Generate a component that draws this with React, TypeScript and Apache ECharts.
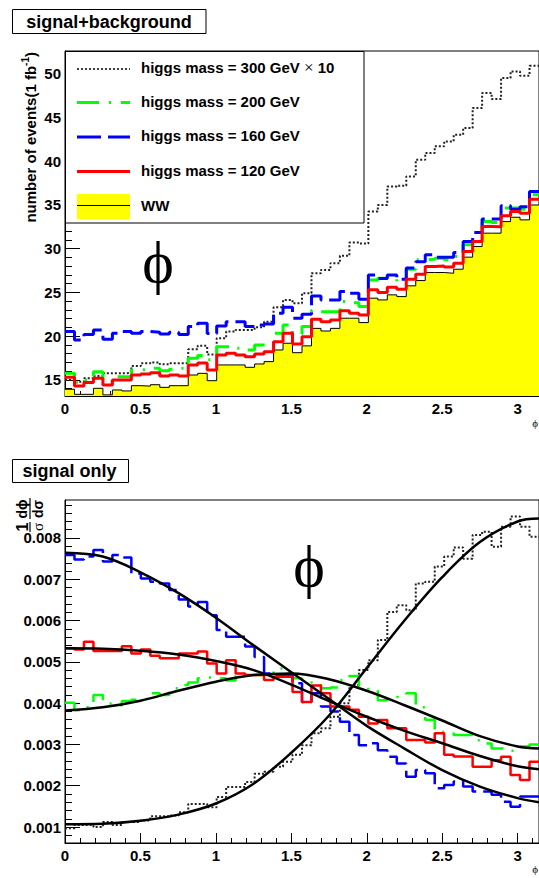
import React, { useEffect, useRef } from "react";
import * as echarts from "echarts";

// ---------- binning ----------
const N_BINS = 50;
const PHI_MAX = Math.PI;

// ---------- axis ticks / labels ----------
const xMajorTicks = [0, 0.5, 1, 1.5, 2, 2.5, 3];
const xMinorTicks = [0.1, 0.2, 0.3, 0.4, 0.6, 0.7, 0.8, 0.9, 1.1, 1.2, 1.3, 1.4, 1.6, 1.7, 1.8, 1.9, 2.1, 2.2, 2.3, 2.4, 2.6, 2.7, 2.8, 2.9, 3.1];
const topYMajorTicks = [15, 20, 25, 30, 35, 40, 45, 50];
const topYMinorTicks = [14, 16, 17, 18, 19, 21, 22, 23, 24, 26, 27, 28, 29, 31, 32, 33, 34, 36, 37, 38, 39, 41, 42, 43, 44, 46, 47, 48, 49, 51, 52];
const botYMajorTicks = [0.001, 0.002, 0.003, 0.004, 0.005, 0.006, 0.007, 0.008];
const botYMinorTicks = [0.0008, 0.0012, 0.0014, 0.0016, 0.0018, 0.0022, 0.0024, 0.0026, 0.0028, 0.0032, 0.0034, 0.0036, 0.0038, 0.0042, 0.0044, 0.0046, 0.0048, 0.0052, 0.0054, 0.0056, 0.0058, 0.0062, 0.0064, 0.0066, 0.0068, 0.0072, 0.0074, 0.0076, 0.0078, 0.0082, 0.0084, 0.0086, 0.0088];

// ---------- top panel: signal + background (events / 1 fb^-1) ----------
const topWW = [13.94, 13.36, 13.36, 14.05, 13.3, 13.86, 13.75, 14.35, 14.3, 14.46, 14.16, 14.35, 14.35, 15.57, 15.76, 14.92, 16.72, 16.72, 16.72, 16.45, 16.83, 17.1, 18.43, 19.2, 18.12, 18.9, 20.9, 20.6, 20.9, 22.06, 22.06, 21.56, 24.35, 24.15, 24.73, 24.53, 25.76, 26.36, 27.28, 27.28, 27.2, 27.66, 29.04, 30.25, 31.78, 31.78, 33.1, 33.6, 33.3, 35.0];
const topH120 = [15.3, 14.31, 14.7, 15.2, 14.43, 15.0, 15.0, 15.57, 15.69, 15.84, 15.46, 15.57, 15.46, 16.72, 16.95, 16.14, 17.86, 18.05, 17.86, 17.67, 17.97, 18.24, 19.38, 20.34, 19.12, 19.95, 21.94, 21.67, 21.86, 22.9, 22.63, 22.44, 25.3, 24.99, 25.6, 25.38, 26.52, 27.09, 27.96, 28.04, 27.9, 28.35, 29.68, 30.82, 32.54, 32.5, 33.76, 34.26, 34.07, 35.67];
const topH160 = [20.53, 19.58, 20.2, 20.72, 19.66, 20.34, 20.53, 20.34, 20.53, 20.45, 20.26, 20.45, 20.2, 21.1, 21.48, 20.3, 21.18, 21.67, 21.67, 21.1, 21.29, 21.4, 22.63, 23.3, 22.06, 22.5, 24.6, 24.15, 24.15, 25.1, 24.9, 24.23, 27.0, 26.6, 27.0, 26.5, 27.8, 28.5, 29.3, 29.04, 29.04, 29.56, 30.82, 31.85, 33.4, 33.4, 34.9, 34.5, 34.8, 36.55];
const topH200 = [15.76, 14.7, 15.0, 15.95, 14.8, 15.38, 15.38, 16.14, 16.22, 16.33, 16.07, 16.22, 16.33, 17.48, 17.8, 17.3, 18.81, 18.81, 18.62, 18.43, 19.0, 19.0, 20.34, 21.29, 20.26, 21.1, 22.93, 22.8, 22.8, 23.96, 23.84, 23.4, 26.44, 26.63, 26.63, 26.25, 27.66, 28.73, 28.8, 28.9, 28.73, 29.1, 30.45, 31.2, 33.1, 33.0, 34.65, 34.65, 34.5, 36.17];
const topH300x10 = [15.0, 14.8, 15.2, 15.46, 15.76, 15.76, 15.8, 16.6, 16.9, 17.0, 16.8, 16.9, 16.9, 18.5, 18.9, 17.9, 19.77, 20.53, 20.72, 20.72, 21.03, 21.67, 23.3, 24.15, 23.77, 24.92, 27.2, 27.58, 28.35, 29.19, 30.7, 30.6, 34.26, 35.0, 37.1, 37.2, 38.26, 40.17, 40.94, 41.7, 42.27, 43.03, 43.8, 46.09, 47.8, 47.1, 49.5, 50.27, 49.78, 50.9];

// ---------- bottom panel: signal only (normalised) ----------
const botH160 = [0.00759, 0.00748, 0.00755, 0.00771, 0.00743, 0.00759, 0.00753, 0.00714, 0.00702, 0.00694, 0.0069, 0.00674, 0.00651, 0.00634, 0.00645, 0.00613, 0.00577, 0.00561, 0.00561, 0.00537, 0.00512, 0.00472, 0.00468, 0.00468, 0.00448, 0.00403, 0.00424, 0.00392, 0.0038, 0.00355, 0.00323, 0.00298, 0.00303, 0.00286, 0.0027, 0.00254, 0.00222, 0.00238, 0.0023, 0.00194, 0.00202, 0.0021, 0.00198, 0.00186, 0.00186, 0.00178, 0.00161, 0.00149, 0.00174, 0.00174];
const botH120 = [0.00533, 0.0053, 0.00549, 0.00526, 0.00526, 0.00526, 0.00538, 0.0052, 0.0053, 0.00515, 0.00509, 0.00509, 0.0052, 0.0052, 0.00525, 0.00496, 0.00472, 0.00504, 0.00472, 0.00468, 0.00468, 0.00456, 0.00464, 0.00464, 0.00427, 0.00403, 0.00443, 0.00424, 0.00392, 0.00392, 0.00384, 0.00367, 0.00351, 0.00359, 0.00339, 0.00339, 0.00311, 0.00311, 0.00305, 0.00327, 0.00275, 0.00271, 0.00271, 0.00246, 0.00246, 0.00262, 0.0027, 0.00226, 0.00214, 0.00258];
const botH200 = [0.00401, 0.00383, 0.0039, 0.0042, 0.00399, 0.00395, 0.00405, 0.00408, 0.0041, 0.00424, 0.0042, 0.00436, 0.00444, 0.0045, 0.0046, 0.00462, 0.0046, 0.00455, 0.00465, 0.0047, 0.00468, 0.0047, 0.00484, 0.00472, 0.0046, 0.00456, 0.0045, 0.00436, 0.00438, 0.00456, 0.00466, 0.0044, 0.0043, 0.00407, 0.0041, 0.00415, 0.00424, 0.0039, 0.0036, 0.0033, 0.0033, 0.00323, 0.00323, 0.0031, 0.00302, 0.0029, 0.0029, 0.00285, 0.00295, 0.003];
const botH300 = [0.00097, 0.00105, 0.00105, 0.001, 0.00112, 0.00105, 0.00112, 0.00112, 0.00116, 0.00126, 0.00126, 0.00128, 0.00136, 0.00156, 0.00156, 0.00148, 0.00173, 0.00197, 0.00197, 0.00209, 0.00229, 0.00234, 0.00246, 0.00258, 0.00275, 0.00298, 0.00327, 0.00339, 0.00367, 0.004, 0.00444, 0.0048, 0.00504, 0.00553, 0.00621, 0.00637, 0.00625, 0.0069, 0.00694, 0.00731, 0.00755, 0.00777, 0.0075, 0.00807, 0.00815, 0.00779, 0.00827, 0.00852, 0.00827, 0.00803];

// fitted curves, read at these phi values
const fitPhi = [0, 0.25, 0.5, 0.75, 1.0, 1.25, 1.5, 1.75, 2.0, 2.25, 2.5, 2.75, 3.0, 3.1416];
const fit160 = [0.00764, 0.00755, 0.00717, 0.00667, 0.00607, 0.0054, 0.00475, 0.0041, 0.00345, 0.0029, 0.00238, 0.00198, 0.0017, 0.0016];
const fit120 = [0.00533, 0.00532, 0.00527, 0.00518, 0.00502, 0.0048, 0.00445, 0.00405, 0.00367, 0.00333, 0.00303, 0.00272, 0.00247, 0.0024];
const fit200 = [0.00382, 0.0039, 0.00406, 0.0043, 0.00452, 0.00468, 0.00472, 0.00458, 0.0043, 0.00395, 0.00358, 0.0032, 0.00295, 0.0029];
const fit300 = [0.00107, 0.00108, 0.00115, 0.0013, 0.00157, 0.00205, 0.0028, 0.0037, 0.00485, 0.006, 0.00705, 0.0079, 0.0084, 0.00847];

// ---------- helpers ----------
const binEdge = (i: number) => (i * PHI_MAX) / N_BINS;
const hist = (vals: number[]) => [...vals.map((v, i) => [binEdge(i), v]), [PHI_MAX, vals[vals.length - 1]]];
const curve = (ys: number[]) => fitPhi.map((x, i) => [x, ys[i]]);

const FONT = "Liberation Sans, Arial, Helvetica, sans-serif";
const SERIF = "Liberation Serif, DejaVu Serif, Times New Roman, serif";

const DOT: number[] = [2, 2];
const DASHDOT: number[] = [22, 10, 2, 10];
const DASH: number[] = [24, 7];

const GREEN = "#00ff00";
const BLUE = "#0000ff";
const RED = "#ff0000";
const YELLOW = "#ffff00";

function mainXAxis(gridIndex: number) {
  return {
    type: "value",
    gridIndex,
    min: 0,
    max: PHI_MAX,
    position: "bottom",
    axisLine: { show: true, onZero: false, lineStyle: { color: "#000", width: 1 } },
    axisTick: { show: true, inside: true, length: 10, customValues: xMajorTicks, lineStyle: { color: "#000" } },
    axisLabel: {
      show: true,
      customValues: xMajorTicks,
      margin: 5,
      color: "#000",
      fontWeight: "bold",
      fontSize: 15,
      fontFamily: FONT,
      formatter: (v: number) => String(v),
    },
    splitLine: { show: false },
  };
}
function minorXAxis(gridIndex: number) {
  return {
    type: "value",
    gridIndex,
    min: 0,
    max: PHI_MAX,
    position: "bottom",
    axisLine: { show: false, onZero: false },
    axisTick: { show: true, inside: true, length: 5, customValues: xMinorTicks, lineStyle: { color: "#000" } },
    axisLabel: { show: false },
    splitLine: { show: false },
  };
}
function mainYAxis(gridIndex: number, min: number, max: number, ticks: number[], fmt: (v: number) => string) {
  return {
    type: "value",
    gridIndex,
    min,
    max,
    position: "left",
    axisLine: { show: true, onZero: false, lineStyle: { color: "#000", width: 1 } },
    axisTick: { show: true, inside: true, length: 15, customValues: ticks, lineStyle: { color: "#000" } },
    axisLabel: {
      show: true,
      customValues: ticks,
      margin: 4,
      color: "#000",
      fontWeight: "bold",
      fontSize: 15,
      fontFamily: FONT,
      formatter: fmt,
    },
    splitLine: { show: false },
  };
}
function minorYAxis(gridIndex: number, min: number, max: number, ticks: number[]) {
  return {
    type: "value",
    gridIndex,
    min,
    max,
    position: "left",
    axisLine: { show: false, onZero: false },
    axisTick: { show: true, inside: true, length: 7, customValues: ticks, lineStyle: { color: "#000" } },
    axisLabel: { show: false },
    splitLine: { show: false },
  };
}

function stepSeries(name: string, vals: number[], xi: number, yi: number, color: string, width: number, dash: any, extra: any = {}) {
  return {
    name,
    type: "line",
    xAxisIndex: xi,
    yAxisIndex: yi,
    step: "end",
    data: hist(vals),
    symbol: "none",
    clip: true,
    lineStyle: { color, width, type: dash, cap: "butt" },
    ...extra,
  };
}
function fitSeries(name: string, ys: number[]) {
  return {
    name,
    type: "line",
    xAxisIndex: 2,
    yAxisIndex: 2,
    data: curve(ys),
    smooth: 0.35,
    symbol: "none",
    clip: true,
    lineStyle: { color: "#000", width: 2.5 },
    z: 5,
  };
}

const legendRows = [69, 102.5, 137, 171.5, 205.5];

function buildGraphic() {
  const els: any[] = [];
  // title boxes
  els.push({ type: "rect", shape: { x: 12.5, y: 9.5, width: 193.5, height: 24 }, style: { fill: "#fff", stroke: "#000", lineWidth: 1 }, z: 100 });
  els.push({ type: "text", x: 109, y: 21.5, style: { text: "signal+background", fontSize: 18, fontWeight: "bold", fontFamily: FONT, fill: "#000", align: "center", verticalAlign: "middle" }, z: 101 });
  els.push({ type: "rect", shape: { x: 12.5, y: 459.5, width: 116, height: 23 }, style: { fill: "#fff", stroke: "#000", lineWidth: 1 }, z: 100 });
  els.push({ type: "text", x: 69.5, y: 471, style: { text: "signal only", fontSize: 18, fontWeight: "bold", fontFamily: FONT, fill: "#000", align: "center", verticalAlign: "middle" }, z: 101 });

  // legend box
  els.push({ type: "rect", shape: { x: 65.5, y: 51.5, width: 298.5, height: 171.5 }, style: { fill: "#fff", stroke: "#000", lineWidth: 1 }, z: 100 });
  const lx1 = 77, lx2 = 130, tx = 141;
  const sty = { fontSize: 15, fontWeight: "bold", fontFamily: FONT, fill: "#000", verticalAlign: "middle", align: "left" };
  els.push({ type: "line", shape: { x1: lx1, y1: legendRows[0], x2: lx2, y2: legendRows[0] }, style: { stroke: "#000", lineWidth: 1.5, lineDash: DOT }, z: 101 });
  els.push({
    type: "text", x: tx, y: legendRows[0] - 1.5,
    style: {
      ...sty,
      text: "{a|higgs mass = 300 GeV }{m|×}{a| 10}",
      rich: {
        a: { fontSize: 15, fontWeight: "bold", fontFamily: FONT, fill: "#000" },
        m: { fontSize: 17, fontWeight: "normal", fontFamily: SERIF, fill: "#000" },
      },
    },
    z: 101,
  });
  els.push({ type: "line", shape: { x1: lx1, y1: legendRows[1], x2: lx2, y2: legendRows[1] }, style: { stroke: GREEN, lineWidth: 3, lineDash: DASHDOT }, z: 101 });
  els.push({ type: "text", x: tx, y: legendRows[1] - 1.5, style: { ...sty, text: "higgs mass = 200 GeV" }, z: 101 });
  els.push({ type: "line", shape: { x1: lx1, y1: legendRows[2], x2: lx2, y2: legendRows[2] }, style: { stroke: BLUE, lineWidth: 3, lineDash: DASH }, z: 101 });
  els.push({ type: "text", x: tx, y: legendRows[2] - 1.5, style: { ...sty, text: "higgs mass = 160 GeV" }, z: 101 });
  els.push({ type: "line", shape: { x1: lx1, y1: legendRows[3], x2: lx2, y2: legendRows[3] }, style: { stroke: RED, lineWidth: 3 }, z: 101 });
  els.push({ type: "text", x: tx, y: legendRows[3] - 1.5, style: { ...sty, text: "higgs mass = 120 GeV" }, z: 101 });
  els.push({ type: "rect", shape: { x: lx1, y: 194, width: lx2 - lx1, height: 25 }, style: { fill: YELLOW, stroke: "none" }, z: 101 });
  els.push({ type: "line", shape: { x1: lx1, y1: legendRows[4], x2: lx2, y2: legendRows[4] }, style: { stroke: "#000", lineWidth: 1 }, z: 102 });
  els.push({ type: "text", x: tx, y: legendRows[4], style: { ...sty, text: "WW" }, z: 101 });

  // big phi symbols
  els.push({ type: "text", x: 158, y: 262, style: { text: "ϕ", fontSize: 60, fontFamily: SERIF, fill: "#000", align: "center", verticalAlign: "middle" }, z: 50 });
  els.push({ type: "text", x: 309, y: 566, style: { text: "ϕ", fontSize: 60, fontFamily: SERIF, fill: "#000", align: "center", verticalAlign: "middle" }, z: 50 });

  // x-axis titles at the right end of each axis
  els.push({ type: "text", x: 538, y: 423, style: { text: "ϕ", fontSize: 11, fontFamily: SERIF, fill: "#000", align: "right", verticalAlign: "middle" }, z: 50 });
  els.push({ type: "text", x: 538, y: 869, style: { text: "ϕ", fontSize: 11, fontFamily: SERIF, fill: "#000", align: "right", verticalAlign: "middle" }, z: 50 });

  // top y-axis title
  els.push({
    type: "text", x: 30, y: 52, rotation: Math.PI / 2,
    style: {
      text: "{a|number of events(1 fb}{s|-1}{a|)}",
      align: "right", verticalAlign: "middle",
      rich: {
        a: { fontSize: 15, fontWeight: "bold", fontFamily: FONT, fill: "#000" },
        s: { fontSize: 10, fontWeight: "bold", fontFamily: FONT, fill: "#000", padding: [0, 0, 9, 0] },
      },
    },
    z: 50,
  });

  // bottom y-axis title: (1/σ)(dϕ/dσ)
  els.push({
    type: "group", x: 30, y: 532, rotation: Math.PI / 2, z: 50,
    children: [
      { type: "text", x: 5, y: -8, style: { text: "1", fontSize: 16, fontWeight: "bold", fontFamily: FONT, fill: "#000", align: "center", verticalAlign: "middle" } },
      { type: "text", x: 23, y: -8, style: { text: "dϕ", fontSize: 14, fontWeight: "bold", fontFamily: FONT, fill: "#000", align: "center", verticalAlign: "middle" } },
      { type: "line", shape: { x1: 0, y1: 0, x2: 10, y2: 0 }, style: { stroke: "#000", lineWidth: 1.2 } },
      { type: "line", shape: { x1: 13, y1: 0, x2: 34, y2: 0 }, style: { stroke: "#000", lineWidth: 1.2 } },
      { type: "text", x: 5, y: 8, style: { text: "σ", fontSize: 15, fontFamily: SERIF, fill: "#000", align: "center", verticalAlign: "middle" } },
      { type: "text", x: 23, y: 8, style: { text: "dσ", fontSize: 14, fontWeight: "bold", fontFamily: FONT, fill: "#000", align: "center", verticalAlign: "middle" } },
    ],
  });
  return els;
}

export default function App() {
  const ref = useRef<HTMLDivElement>(null);
  useEffect(() => {
    if (!ref.current) return;
    const chart = echarts.init(ref.current, null, { renderer: "svg" });
    const option: any = {
      animation: false,
      backgroundColor: "#fff",
      grid: [
        { left: 65, right: -3, top: 51, bottom: 482, show: true, borderColor: "#000", borderWidth: 1, backgroundColor: "transparent" },
        { left: 65, right: -3, top: 500, bottom: 35, show: true, borderColor: "#000", borderWidth: 1, backgroundColor: "transparent" },
      ],
      xAxis: [mainXAxis(0), minorXAxis(0), mainXAxis(1), minorXAxis(1)],
      yAxis: [
        mainYAxis(0, 13.17, 52.6, topYMajorTicks, (v: number) => String(v)),
        minorYAxis(0, 13.17, 52.6, topYMinorTicks),
        mainYAxis(1, 0.000613, 0.00892, botYMajorTicks, (v: number) => v.toFixed(3)),
        minorYAxis(1, 0.000613, 0.00892, botYMinorTicks),
      ],
      series: [
        stepSeries("WW", topWW, 0, 0, "#000", 1, "solid", { areaStyle: { color: YELLOW, opacity: 1, origin: "start" } }),
        stepSeries("higgs mass = 300 GeV x 10", topH300x10, 0, 0, "#222", 2, DOT),
        stepSeries("higgs mass = 200 GeV", topH200, 0, 0, GREEN, 3, DASHDOT),
        stepSeries("higgs mass = 160 GeV", topH160, 0, 0, BLUE, 3, DASH),
        stepSeries("higgs mass = 120 GeV", topH120, 0, 0, RED, 3, "solid"),

        stepSeries("300 signal", botH300, 2, 2, "#222", 2, DOT),
        stepSeries("200 signal", botH200, 2, 2, GREEN, 2.5, DASHDOT),
        stepSeries("160 signal", botH160, 2, 2, BLUE, 2.5, DASH),
        stepSeries("120 signal", botH120, 2, 2, RED, 2.5, "solid"),
        fitSeries("fit 300", fit300),
        fitSeries("fit 200", fit200),
        fitSeries("fit 160", fit160),
        fitSeries("fit 120", fit120),
      ],
      graphic: { elements: buildGraphic() },
    };
    chart.setOption(option);
    return () => chart.dispose();
  }, []);
  return <div ref={ref} style={{ position: "fixed", left: 0, top: 0, width: 539, height: 878, background: "#fff" }} />;
}
